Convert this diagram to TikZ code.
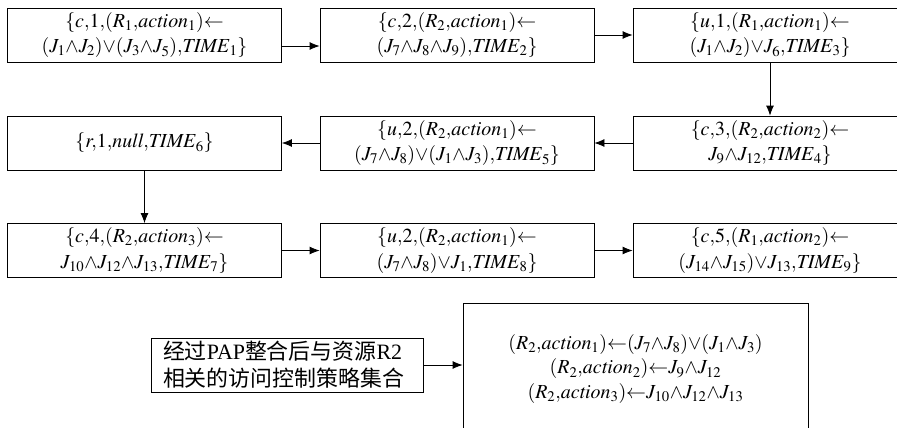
\documentclass[tikz,border=0pt]{standalone}
\usepackage{mathptmx}
\usepackage[no-math]{fontspec}
\setmainfont{Liberation Serif}
\newfontfamily\cjk{Noto Sans CJK SC}
\usetikzlibrary{arrows.meta}
\tikzset{
    block/.style = {draw, rectangle, line width=0.8bp,
        align=center, inner sep=0pt,
        minimum height=54bp,
        minimum width=274bp,
        font=\fontsize{20}{26}\selectfont},
    arrow/.style = {draw, line width=0.8bp, -{Latex[length=10bp,width=8bp]}}
}
\thinmuskip=0mu
\medmuskip=0mu
\thickmuskip=0mu
\newcommand{\act}[1]{\mathit{action}_{#1}}
\newcommand{\tim}[1]{\mathit{TIME}_{#1}}
\begin{document}
\begin{tikzpicture}[x=1bp,y=-1bp]
    \useasboundingbox (0,0) rectangle (897,427);
    \clip (0,0) rectangle (897,427);
    \fill[white] (0,0) rectangle (897,427);
    % row 1
    \node[block] (c1) at (144.5,35) {$\{c,1,(R_1,\act1)\leftarrow$\\$(J_1\wedge J_2)\vee(J_3\wedge J_5),\tim1\}$};
    \node[block] (c2) at (457,35) {$\{c,2,(R_2,\act1)\leftarrow$\\$(J_7\wedge J_8\wedge J_9),\tim2\}$};
    \node[block] (u1) at (770,35) {$\{u,1,(R_1,\act1)\leftarrow$\\$(J_1\wedge J_2)\vee J_6,\tim3\}$};
    % row 2
    \node[block] (c3) at (770,143) {$\{c,3,(R_2,\act2)\leftarrow$\\$J_9\wedge J_{12},\tim4\}$};
    \node[block] (u2) at (457,143) {$\{u,2,(R_2,\act1)\leftarrow$\\$(J_7\wedge J_8)\vee(J_1\wedge J_3),\tim5\}$};
    \node[block] (r1) at (144.5,143) {$\{r,1,\mathit{null},\tim6\}$};
    % row 3
    \node[block] (c4) at (144.5,250.5) {$\{c,4,(R_2,\act3)\leftarrow$\\$J_{10}\wedge J_{12}\wedge J_{13},\tim7\}$};
    \node[block] (u3) at (457,250.5) {$\{u,2,(R_2,\act1)\leftarrow$\\$(J_7\wedge J_8)\vee J_1,\tim8\}$};
    \node[block] (c5) at (770,250.5) {$\{c,5,(R_1,\act2)\leftarrow$\\$(J_{14}\wedge J_{15})\vee J_{13},\tim9\}$};
    % result
    \node[block, align=left, minimum width=272bp, text width=248bp, inner xsep=12bp,
        font=\fontsize{22}{27}\selectfont] (set) at (287,365)
        {{\cjk 经过}PAP{\cjk 整合后与资源}R2\\{\cjk 相关的访问控制策略集合}};
    \node[block, minimum width=345bp, minimum height=132bp,
        font=\fontsize{20}{25}\selectfont] (rules) at (635.5,369)
        {$(R_2,\act1)\leftarrow(J_7\wedge J_8)\vee(J_1\wedge J_3)$\\
         $(R_2,\act2)\leftarrow J_9\wedge J_{12}$\\
         $(R_2,\act3)\leftarrow J_{10}\wedge J_{12}\wedge J_{13}$};
    \draw[arrow] ([yshift=-11bp]c1.east) -- ([yshift=-11bp]c2.west);
    \draw[arrow] (c2) -- (u1);
    \draw[arrow] (u1) -- (c3);
    \draw[arrow] (c3) -- (u2);
    \draw[arrow] (u2) -- (r1);
    \draw[arrow] (r1) -- (c4);
    \draw[arrow] (c4) -- (u3);
    \draw[arrow] (u3) -- (c5);
    \draw[arrow] (set.east) -- (set.east -| rules.west);
\end{tikzpicture}
\end{document}
